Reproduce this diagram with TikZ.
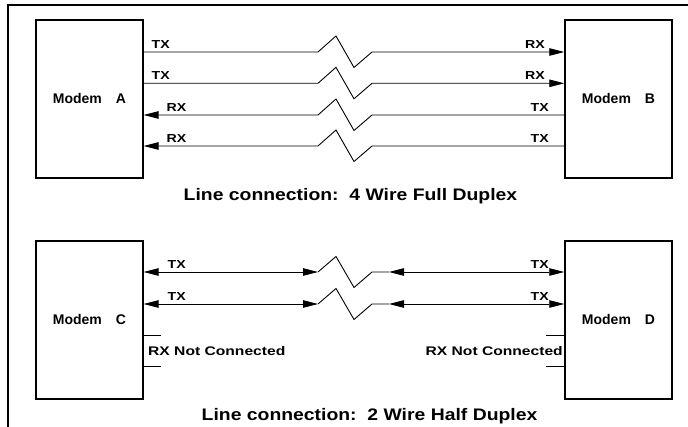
\documentclass[tikz,border=0pt]{standalone}
\usepackage{fontspec}
\setmainfont{Liberation Sans}
\usepackage{graphicx}
\usetikzlibrary{arrows.meta}
\newcommand{\wtxt}[2]{\scalebox{#1}[1]{#2}}
\begin{document}
\begin{tikzpicture}[x=1pt,y=-1pt,
  modem/.style={draw,line width=1.8pt,minimum width=106.7pt,minimum height=157.7pt,inner sep=0pt,
    font=\fontsize{14}{16}\selectfont\bfseries},
  wire/.style={line width=0.9pt},
  tipend/.style={-{Triangle[length=15pt,width=7.5pt]}},
  tipboth/.style={{Triangle[length=15pt,width=7.5pt]}-{Triangle[length=15pt,width=7.5pt]}},
  lbl/.style={inner sep=0pt,font=\fontsize{11.6}{13}\selectfont\bfseries},
  nclbl/.style={inner sep=0pt,font=\fontsize{12.5}{14}\selectfont\bfseries},
  ttl/.style={inner sep=0pt,anchor=base west,font=\fontsize{16.7}{19}\selectfont\bfseries},
  stub/.style={line width=0.9pt}
]
\useasboundingbox (0,0) rectangle (688,427);
% frame
\draw[line width=2pt] (7.5,440) -- (7.5,5) -- (695,5);

% modems
\node[modem] (A) at (89.4,98.9) {Modem\hspace{14pt}A};
\node[modem] (B) at (618.5,98.9) {Modem\hspace{14pt}B};
\node[modem] (C) at (89.4,319.9) {Modem\hspace{14pt}C};
\node[modem] (D) at (618.5,319.9) {Modem\hspace{14pt}D};

% 4 wire: lines A -> B
\foreach \y in {52,83.3} {
  \draw[wire,tipend] (A.east |- 0,\y) -- (318,\y) -- (336,\y-16) -- (354,\y+15.5) -- (372,\y) -- (B.west |- 0,\y);
}
% 4 wire: lines B -> A
\foreach \y in {115,146} {
  \draw[wire,tipend] (B.west |- 0,\y) -- (372,\y) -- (354,\y+15.5) -- (336,\y-16) -- (318,\y) -- (A.east |- 0,\y);
}
% labels 4 wire
\node[lbl,anchor=base west] (ta1) at (151.5,48.5) {\wtxt{1.22}{TX}};
\node[lbl,anchor=base west] (ta2) at (151.5,79.8) {\wtxt{1.22}{TX}};
\node[lbl,anchor=base west] (ra3) at (166.5,111.5) {\wtxt{1.22}{RX}};
\node[lbl,anchor=base west] (ra4) at (166.5,142.5) {\wtxt{1.22}{RX}};
\node[lbl,anchor=base east] (rb1) at (545,48.5) {\wtxt{1.22}{RX}};
\node[lbl,anchor=base east] (rb2) at (545,79.8) {\wtxt{1.22}{RX}};
\node[lbl,anchor=base east] (tb3) at (549,111.5) {\wtxt{1.22}{TX}};
\node[lbl,anchor=base east] (tb4) at (549,142.5) {\wtxt{1.22}{TX}};

\node[ttl] (t1) at (183.5,201) {\wtxt{1.16}{Line connection:\ \ 4 Wire Full Duplex}};

% 2 wire
\foreach \y in {272,304} {
  \draw[wire,tipboth] (C.east |- 0,\y) -- (318,\y);
  \draw[wire] (318,\y) -- (336,\y-15.5) -- (354,\y+15.5) -- (372,\y) -- (389,\y);
  \draw[wire,tipboth] (389,\y) -- (D.west |- 0,\y);
}
\node[lbl,anchor=base west] (tc1) at (167.5,268.5) {\wtxt{1.22}{TX}};
\node[lbl,anchor=base west] (tc2) at (167.5,300.5) {\wtxt{1.22}{TX}};
\node[lbl,anchor=base east] (td1) at (549,268.5) {\wtxt{1.22}{TX}};
\node[lbl,anchor=base east] (td2) at (549,300.5) {\wtxt{1.22}{TX}};

% RX not connected stubs
\draw[stub] (C.east |- 0,335) -- ++(17,0);
\draw[stub] (C.east |- 0,366) -- ++(17,0);
\draw[stub] (D.west |- 0,335) -- ++(-18,0);
\draw[stub] (D.west |- 0,366) -- ++(-18,0);
\node[nclbl,anchor=base west] (nc) at (148,355.7) {\wtxt{1.25}{RX Not Connected}};
\node[nclbl,anchor=base east] (nd) at (563,355.7) {\wtxt{1.25}{RX Not Connected}};

\node[ttl] (t2) at (201.5,420.5) {\wtxt{1.16}{Line connection:\ \ 2 Wire Half Duplex}};
\end{tikzpicture}
\end{document}
